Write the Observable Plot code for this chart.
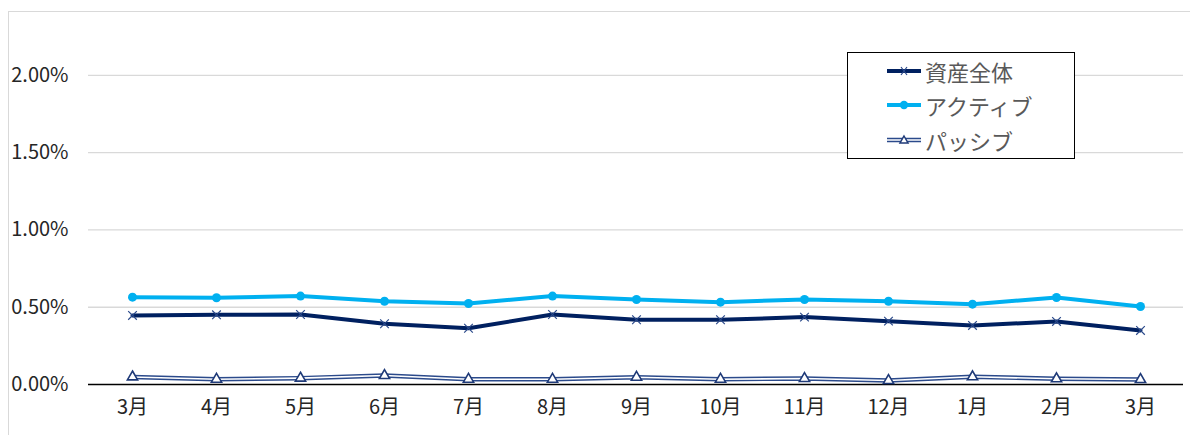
<!DOCTYPE html>
<html><head><meta charset="utf-8">
<script src="https://cdn.jsdelivr.net/npm/d3@7"></script>
<script src="https://cdn.jsdelivr.net/npm/@observablehq/plot@0.6"></script>
<style>
html,body{margin:0;padding:0;background:#fff;}
#wrap{position:relative;width:1190px;height:435px;overflow:hidden;}
#frame{position:absolute;left:8px;top:11px;width:1200px;height:440px;border:1px solid #d9d9d9;box-sizing:border-box;}
#chart{position:absolute;left:0;top:0;}
#legend{position:absolute;left:847px;top:52px;width:228px;height:107px;border:1.5px solid #000;background:#fff;box-sizing:border-box;font-family:"Noto Sans CJK JP",sans-serif;font-size:22px;color:#595959;}
.row{position:absolute;left:38px;height:30px;display:flex;align-items:center;}
.row svg{margin-right:3px;}
</style></head>
<body><div id="wrap"><div id="frame"></div><div id="chart"></div><div id="legend"></div></div>
<script>
const months = ["3月","4月","5月","6月","7月","8月","9月","10月","11月","12月","1月","2月","3月"];
const seriesNames = ["資産全体","アクティブ","パッシブ"];
const total   = [0.447,0.451,0.453,0.393,0.364,0.453,0.419,0.419,0.436,0.410,0.382,0.408,0.350];
const active  = [0.565,0.561,0.572,0.539,0.524,0.572,0.550,0.533,0.550,0.539,0.520,0.563,0.505];
const passive = [0.049,0.034,0.041,0.058,0.034,0.034,0.047,0.034,0.039,0.026,0.050,0.037,0.032];
const yTicks = [0,0.005,0.01,0.015,0.02];

const keys = months.map((m,i)=>i+":"+m);
const mk = arr => arr.map((v,i)=>({k:keys[i], v:v/100}));
const dT = mk(total), dA = mk(active), dP = mk(passive);

const font = '"Noto Sans CJK JP", sans-serif';
const plot = Plot.plot({
  width:1190, height:435,
  marginLeft:88, marginRight:7, marginTop:44, marginBottom:51,
  style:{fontFamily:font, fontSize:"20px", color:"#262626", background:"transparent"},
  x:{type:"band", domain:keys, padding:0, tickFormat:k=>k.split(":")[1], tickSize:0, tickPadding:15, label:null},
  y:{domain:[0,0.022], ticks:yTicks, tickFormat:d=>d3.format(".2%")(d), tickSize:0, tickPadding:20, label:null},
  marks:[
    Plot.ruleY(yTicks.slice(1), {stroke:"#d9d9d9", strokeWidth:1.3}),
    Plot.ruleY([0], {stroke:"#000", strokeWidth:1.5}),
    Plot.line(dP, {x:"k", y:"v", stroke:"#2b4a8b", strokeWidth:4.5}),
    Plot.line(dP, {x:"k", y:"v", stroke:"#ffffff", strokeWidth:1.6}),
    Plot.dot(dP, {x:"k", y:"v", symbol:"triangle", r:3.8, fill:"#fff", stroke:"#1f3a78", strokeWidth:1.6}),
    Plot.line(dA, {x:"k", y:"v", stroke:"#00b0f0", strokeWidth:4}),
    Plot.dot(dA, {x:"k", y:"v", r:4.5, fill:"#00b0f0"}),
    Plot.line(dT, {x:"k", y:"v", stroke:"#002060", strokeWidth:4}),
    Plot.dot(dT, {x:"k", y:"v", symbol:"times", r:4, stroke:"#2b4a8b", strokeWidth:1.2})
  ]
});
document.getElementById("chart").appendChild(plot);

// legend
const leg = document.getElementById("legend");
const sym = [
  `<svg width="36" height="14"><line x1="1" y1="7" x2="35" y2="7" stroke="#002060" stroke-width="4"/><path d="M15,3L21,11M21,3L15,11" stroke="#2b4a8b" stroke-width="1.2"/></svg>`,
  `<svg width="36" height="14"><line x1="1" y1="7" x2="35" y2="7" stroke="#00b0f0" stroke-width="4"/><circle cx="18" cy="7" r="4.2" fill="#00b0f0"/></svg>`,
  `<svg width="36" height="14"><line x1="1" y1="7" x2="35" y2="7" stroke="#2b4a8b" stroke-width="4.5"/><line x1="1" y1="7" x2="35" y2="7" stroke="#fff" stroke-width="1.6"/><path d="M18,3L22,10L14,10Z" fill="#fff" stroke="#1f3a78" stroke-width="1.5"/></svg>`
];
const tops = [3,37,72];
seriesNames.forEach((n,i)=>{
  const r = document.createElement("div");
  r.className="row"; r.style.top = tops[i]+"px";
  r.innerHTML = sym[i] + "<span>"+n+"</span>";
  leg.appendChild(r);
});
</script></body></html>
